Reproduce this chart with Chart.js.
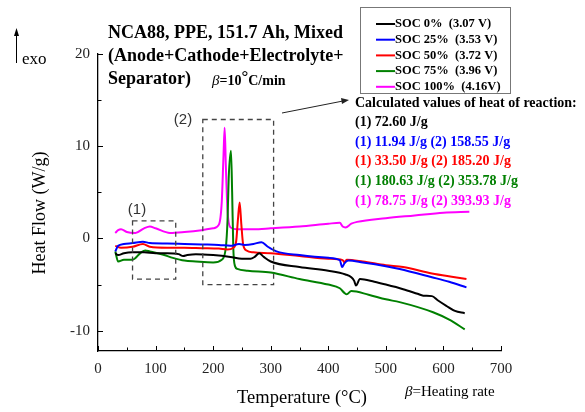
<!DOCTYPE html>
<html>
<head>
<meta charset="utf-8">
<script src="https://cdn.jsdelivr.net/npm/chart.js@4/dist/chart.umd.min.js"></script>
<style>
  html, body { margin: 0; padding: 0; background: #fff; }
  #wrap { width: 585px; height: 412px; }
</style>
</head>
<body>
<div id="wrap"><canvas id="dsc" width="585" height="412"></canvas></div>
<script>
// series labels + colours
const seriesNames = ['SOC 0%  (3.07 V)', 'SOC 25%  (3.53 V)', 'SOC 50%  (3.72 V)', 'SOC 75%  (3.96 V)', 'SOC 100%  (4.16V)'];
const seriesColors = ['#000000', '#0000ff', '#ff0000', '#008000', '#ff00ff'];

// temperature (C) / heat flow (W/g)
const soc0Temp = [30, 35, 45, 60, 80, 100, 120, 140, 148, 155, 170, 200, 230, 250, 265, 272, 280, 288, 300, 350, 400, 430, 440, 445, 448, 455, 480, 500, 530, 555, 565, 580, 590, 605, 620, 637];
const soc0Flow = [-1.6, -1.8, -1.6, -1.5, -1.5, -1.6, -1.6, -1.7, -1.9, -1.8, -1.7, -1.8, -2.0, -2.2, -2.2, -2.0, -1.6, -2.0, -2.5, -3.1, -3.5, -3.9, -4.2, -4.6, -5.1, -4.4, -4.7, -5.0, -5.5, -6.0, -6.2, -6.25, -6.7, -7.3, -7.85, -8.1];

const soc25Temp = [30, 35, 45, 60, 78, 90, 120, 150, 180, 210, 230, 245, 255, 270, 284, 295, 310, 350, 400, 420, 424, 428, 435, 460, 500, 524, 580, 610, 640];
const soc25Flow = [-1.4, -0.8, -0.6, -0.5, -0.35, -0.5, -0.55, -0.6, -0.65, -0.7, -0.8, -0.6, -0.7, -0.6, -0.4, -0.9, -1.4, -1.8, -2.1, -2.35, -3.1, -2.7, -2.4, -2.6, -3.0, -3.3, -4.2, -4.7, -5.3];

const soc50Temp = [30, 40, 60, 78, 90, 120, 150, 180, 210, 225, 235, 240, 243, 246, 249, 252, 258, 270, 300, 350, 400, 425, 428, 432, 460, 500, 530, 580, 620, 640];
const soc50Flow = [-0.8, -1.0, -0.9, -0.6, -0.9, -1.0, -1.0, -1.05, -1.1, -1.2, -1.0, -0.3, 2.0, 3.9, 1.5, -0.6, -1.3, -1.5, -1.6, -1.9, -2.2, -2.35, -2.6, -2.3, -2.5, -2.9, -3.1, -3.8, -4.2, -4.4];

const soc75Temp = [30, 35, 45, 60, 75, 82, 90, 100, 115, 130, 150, 170, 200, 215, 222, 225, 227, 231, 233, 235, 238, 242, 260, 300, 350, 400, 420, 428, 432, 440, 470, 500, 524, 582, 610, 637];
const soc75Flow = [-1.4, -2.5, -2.3, -2.3, -1.5, -1.3, -1.4, -1.55, -1.8, -2.1, -2.4, -2.5, -2.6, -2.3, -1.0, 2.0, 6.5, 9.5, 5.0, -1.0, -3.0, -3.3, -3.5, -3.7, -4.4, -5.0, -5.4, -5.9, -6.05, -5.7, -6.1, -6.6, -6.9, -8.0, -8.8, -9.85];

const soc100Temp = [30, 35, 40, 50, 65, 80, 90, 100, 125, 150, 180, 200, 210, 215, 218, 220, 222, 225, 230, 240, 270, 300, 350, 400, 420, 425, 430, 440, 450, 500, 550, 600, 645];
const soc100Flow = [0.6, 0.9, 1.0, 0.7, 0.6, 1.1, 1.3, 1.1, 0.6, 0.7, 0.9, 1.1, 1.5, 4.0, 9.0, 12.0, 8.0, 3.0, 1.2, 1.0, 1.0, 1.1, 1.3, 1.6, 1.7, 1.3, 1.2, 1.6, 1.8, 2.2, 2.5, 2.8, 2.9];

// axis ticks
const xTicks = [0, 100, 200, 300, 400, 500, 600, 700];
const yTicks = [-10, 0, 10, 20];

// heat of reaction notes (text + colour)
const heatLines = [
  ['Calculated values of heat of reaction:', '#000000'],
  ['(1) 72.60 J/g', '#000000'],
  ['(1) 11.94 J/g (2) 158.55 J/g', '#0000ff'],
  ['(1) 33.50 J/g (2) 185.20 J/g', '#ff0000'],
  ['(1) 180.63 J/g (2) 353.78 J/g', '#008000'],
  ['(1) 78.75 J/g (2) 393.93 J/g', '#ff00ff']
];

const temps = [soc0Temp, soc25Temp, soc50Temp, soc75Temp, soc100Temp];
const flows = [soc0Flow, soc25Flow, soc50Flow, soc75Flow, soc100Flow];

const serif = "'Liberation Serif', 'Times New Roman', serif";

function dashedBox(ctx, xs, ys, t0, t1, v0, v1) {
  const x0 = xs.getPixelForValue(t0), x1 = xs.getPixelForValue(t1);
  const y0 = ys.getPixelForValue(v0), y1 = ys.getPixelForValue(v1);
  ctx.strokeRect(x0, y0, x1 - x0, y1 - y0);
}

const extras = {
  id: 'extras',
  afterDraw(chart) {
    const ctx = chart.ctx;
    const xs = chart.scales.x, ys = chart.scales.y;
    const area = chart.chartArea;
    ctx.save();

    // inward ticks
    ctx.strokeStyle = '#000';
    ctx.lineWidth = 1;
    for (let t = 0; t <= 700; t += 50) {
      const px = Math.round(xs.getPixelForValue(t)) + 0.5;
      const len = t % 100 === 0 ? 5 : 3.5;
      ctx.beginPath(); ctx.moveTo(px, area.bottom); ctx.lineTo(px, area.bottom - len); ctx.stroke();
    }
    for (let v = -10; v <= 20; v += 5) {
      const py = Math.round(ys.getPixelForValue(v)) + 0.5;
      const len = v % 10 === 0 ? 5 : 3.5;
      ctx.beginPath(); ctx.moveTo(area.left, py); ctx.lineTo(area.left + len, py); ctx.stroke();
    }

    // dashed boxes
    ctx.setLineDash([5, 4]);
    ctx.strokeStyle = '#444';
    ctx.lineWidth = 1.3;
    dashedBox(ctx, xs, ys, 60, 135, 1.9, -4.4);
    dashedBox(ctx, xs, ys, 182, 305, 12.9, -5.0);
    ctx.setLineDash([]);

    ctx.fillStyle = '#333';
    ctx.font = "15px 'Liberation Sans', Arial, sans-serif";
    ctx.textAlign = 'center';
    ctx.textBaseline = 'middle';
    ctx.fillText('(1)', 137, 210);
    ctx.fillText('(2)', 183, 120);

    // pointer arrow to the notes
    ctx.strokeStyle = '#222';
    ctx.fillStyle = '#222';
    ctx.lineWidth = 1;
    ctx.beginPath(); ctx.moveTo(282, 113); ctx.lineTo(343, 101); ctx.stroke();
    ctx.beginPath(); ctx.moveTo(349, 100); ctx.lineTo(341, 98); ctx.lineTo(342, 104); ctx.closePath(); ctx.fill();

    // exo arrow
    ctx.strokeStyle = '#000';
    ctx.fillStyle = '#000';
    ctx.beginPath(); ctx.moveTo(16.5, 63); ctx.lineTo(16.5, 34); ctx.stroke();
    ctx.beginPath(); ctx.moveTo(16.5, 28); ctx.lineTo(14, 36); ctx.lineTo(19, 36); ctx.closePath(); ctx.fill();
    ctx.textAlign = 'left';
    ctx.font = '17px ' + serif;
    ctx.fillText('exo', 22, 60);

    // title block
    ctx.font = 'bold 18px ' + serif;
    ctx.fillText('NCA88, PPE, 151.7 Ah, Mixed', 108, 33);
    ctx.fillText('(Anode+Cathode+Electrolyte+', 108, 56);
    ctx.fillText('Separator)', 108, 79);
    let bx = 212;
    ctx.font = 'italic 15px ' + serif;
    ctx.fillText('\u03b2', bx, 81); bx += ctx.measureText('\u03b2').width;
    ctx.font = 'bold 14px ' + serif;
    ctx.fillText('=10', bx, 81); bx += ctx.measureText('=10').width;
    ctx.font = 'bold 17px ' + serif;
    ctx.fillText('\u00b0', bx, 78); bx += ctx.measureText('\u00b0').width;
    ctx.font = 'bold 14px ' + serif;
    ctx.fillText('C/min', bx, 81);

    // legend box
    ctx.strokeStyle = '#777';
    ctx.lineWidth = 1;
    ctx.strokeRect(360.5, 7.5, 150, 86);
    ctx.font = 'bold 12.5px ' + serif;
    chart.data.datasets.forEach((ds, i) => {
      const y = 24 + i * 15.7;
      ctx.strokeStyle = ds.borderColor;
      ctx.lineWidth = 2;
      ctx.beginPath(); ctx.moveTo(376, y); ctx.lineTo(395, y); ctx.stroke();
      ctx.fillStyle = '#000';
      ctx.fillText(ds.label, 395, y);
    });

    // heat of reaction notes
    ctx.font = 'bold 14px ' + serif;
    heatLines.forEach((ln, i) => {
      ctx.fillStyle = ln[1];
      ctx.fillText(ln[0], 355, 103 + i * 19.6);
    });

    // axis titles
    ctx.fillStyle = '#000';
    ctx.font = '18.5px ' + serif;
    ctx.textAlign = 'center';
    ctx.fillText('Temperature (\u00b0C)', 302, 398);
    ctx.save();
    ctx.translate(40, 213);
    ctx.rotate(-Math.PI / 2);
    ctx.font = '18px ' + serif;
    ctx.fillText('Heat Flow (W/g)', 0, 0);
    ctx.restore();

    ctx.textAlign = 'left';
    let hx = 405;
    ctx.font = 'italic 15px ' + serif;
    ctx.fillText('\u03b2', hx, 392); hx += ctx.measureText('\u03b2').width;
    ctx.font = '15px ' + serif;
    ctx.fillText('=Heating rate', hx, 392);

    ctx.restore();
  }
};

const datasets = seriesNames.map((name, i) => ({
  label: name,
  data: temps[i].map((t, j) => ({ x: t, y: flows[i][j] })),
  borderColor: seriesColors[i],
  borderWidth: 2,
  pointRadius: 0,
  fill: false,
  cubicInterpolationMode: 'monotone'
}));

new Chart(document.getElementById('dsc'), {
  type: 'line',
  data: { datasets },
  options: {
    responsive: false,
    animation: false,
    devicePixelRatio: 1,
    layout: { padding: { top: 54, right: 84, left: 0, bottom: 0 } },
    plugins: { legend: { display: false }, tooltip: { enabled: false } },
    scales: {
      x: {
        type: 'linear',
        min: 0,
        max: 700,
        afterBuildTicks: s => { s.ticks = xTicks.map(v => ({ value: v })); },
        afterFit: s => { s.height = 61; },
        grid: { display: false, drawTicks: false },
        border: { color: '#000', width: 1.3 },
        ticks: { padding: 9, color: '#222', font: { family: serif, size: 15 } }
      },
      y: {
        type: 'linear',
        min: -12.2,
        max: 20,
        afterBuildTicks: s => { s.ticks = yTicks.map(v => ({ value: v })); },
        afterFit: s => { s.width = 98; },
        grid: { display: false, drawTicks: false },
        border: { color: '#000', width: 1.3 },
        ticks: { padding: 8, color: '#222', font: { family: serif, size: 15 } }
      }
    }
  },
  plugins: [extras]
});
</script>
</body>
</html>
